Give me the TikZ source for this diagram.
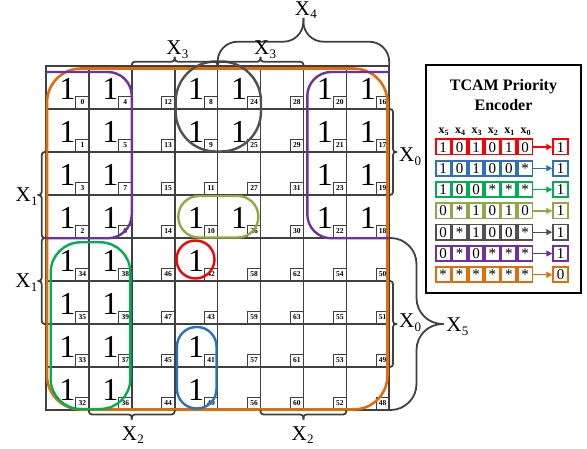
\documentclass[tikz,border=0pt]{standalone}
\usepackage{fontspec}
\setmainfont{Liberation Serif}
\usetikzlibrary{arrows.meta}
\definecolor{gridc}{HTML}{404040}
\definecolor{kred}{HTML}{FF0000}
\definecolor{kblue}{HTML}{2A72C0}
\definecolor{kgreen}{HTML}{00B050}
\definecolor{kolive}{HTML}{8DAA45}
\definecolor{kgray}{HTML}{505050}
\definecolor{kpurple}{HTML}{7030A0}
\definecolor{korange}{HTML}{E36C0A}
\newcommand{\Xs}[1]{X\rlap{\kern0.3pt\raisebox{-3.5pt}{\fontsize{13}{13}\selectfont #1}}}
\newcommand{\xs}[1]{x\rlap{\raisebox{-2.5pt}{\fontsize{8}{8}\selectfont\bfseries #1}}}
\tikzset{
  cell/.style={draw=gridc,line width=1.6pt,minimum width=42.9pt,minimum height=43pt,inner sep=0pt,outer sep=0pt},
  numbox/.style={draw=gridc,line width=0.9pt,minimum size=13pt,inner sep=0pt,outer sep=0pt,font=\fontsize{7.5}{7.5}\selectfont\bfseries},
  one/.style={inner sep=0pt,font=\fontsize{32}{32}\selectfont,yshift=-1pt},
  loopline/.style={line width=2.4pt},
  braceline/.style={draw=gridc,line width=1.8pt},
  xlab/.style={anchor=base,inner sep=0pt,font=\fontsize{21}{21}\selectfont},
  tcell/.style={line width=1.8pt,minimum width=14.6pt,minimum height=15.2pt,inner sep=0pt,text height=10.2pt,text depth=0pt,font=\fontsize{15}{15}\selectfont},
  hdr/.style={anchor=base,inner sep=0pt,font=\fontsize{12}{12}\selectfont\bfseries,xshift=-1.5pt},
  ttl/.style={anchor=base,inner sep=0pt,font=\fontsize{16}{16}\selectfont\bfseries}
}
\begin{document}
\begin{tikzpicture}[x=1pt,y=-1pt]
\useasboundingbox (0,0) rectangle (587,449);
% K-map cells
\foreach \r/\row in {0/{0,4,12,8,24,28,20,16},1/{1,5,13,9,25,29,21,17},2/{3,7,15,11,27,31,23,19},3/{2,6,14,10,26,30,22,18},4/{34,38,46,42,58,62,54,50},5/{35,39,47,43,59,63,55,51},6/{33,37,45,41,57,61,53,49},7/{32,36,44,40,56,60,52,48}}{
  \foreach \n [count=\c from 0] in \row {
    \pgfmathsetmacro\cx{46+42.9*(\c+0.5)}
    \pgfmathsetmacro\cy{66+43*(\r+0.5)}
    \node[cell] (c-\r-\c) at (\cx,\cy) {};
    \node[numbox,anchor=south east] (n-\r-\c) at (c-\r-\c.south east) {\n};
  }
}
% ones
\foreach \r/\c in {0/0,0/1,0/3,0/4,0/6,0/7,1/0,1/1,1/3,1/4,1/6,1/7,2/0,2/1,2/6,2/7,3/0,3/1,3/3,3/4,3/6,3/7,4/0,4/1,4/3,5/0,5/1,6/0,6/1,6/3,7/0,7/1,7/3}{
  \node[one] (one-\r-\c) at (c-\r-\c.center) {1};
}
% loops
\draw[loopline,korange,line width=2.6pt,rounded corners=34pt] (47,68.5) rectangle (387.5,409.5);
\draw[loopline,kpurple,rounded corners=24pt] (46,72) -- (131.8,72) -- (131.8,238.3) -- (46,238.3);
\draw[loopline,kpurple,rounded corners=24pt] (389.2,72) -- (307.3,72) -- (307.3,238.3) -- (389.2,238.3);
\draw[loopline,kgray,rounded corners=40pt] (175.7,61.5) rectangle (261,151.5);
\draw[loopline,kolive,rounded corners=20.5pt] (178.3,196) rectangle (258.3,237.5);
\draw[loopline,kred] (195.5,259.5) circle[radius=19];
\draw[loopline,kblue,rounded corners=19.5pt] (177,327) rectangle (216.5,408.5);
\draw[loopline,kgreen,rounded corners=30pt] (50.7,242.3) rectangle (130.3,409);
% braces top
\draw[braceline,rounded corners=3pt] (131.8,66) -- (131.8,61.7) -- (174.7,61.7) -- (174.7,57);
\draw[braceline,rounded corners=3pt] (217.6,66) -- (217.6,61.7) -- (174.7,61.7) -- (174.7,57);
\draw[braceline,rounded corners=3pt] (217.6,66) -- (217.6,61.7) -- (260.5,61.7) -- (260.5,57);
\draw[braceline,rounded corners=3pt] (303.4,66) -- (303.4,61.7) -- (260.5,61.7) -- (260.5,57);
\draw[braceline,rounded corners=20pt] (217.6,66) -- (217.6,41.7) -- (303.4,41.7) -- (303.4,18);
\draw[braceline,rounded corners=20pt] (389.2,66) -- (389.2,41.7) -- (303.4,41.7) -- (303.4,18);
% braces left
\draw[braceline,rounded corners=3pt] (46,152) -- (41.7,152) -- (41.7,195) -- (37.5,195);
\draw[braceline,rounded corners=3pt] (46,238) -- (41.7,238) -- (41.7,195) -- (37.5,195);
\draw[braceline,rounded corners=3pt] (46,238) -- (41.7,238) -- (41.7,281) -- (37.5,281);
\draw[braceline,rounded corners=3pt] (46,324) -- (41.7,324) -- (41.7,281) -- (37.5,281);
% braces right
\draw[braceline,rounded corners=3pt] (389.2,109) -- (393,109) -- (393,152) -- (397,152);
\draw[braceline,rounded corners=3pt] (389.2,195) -- (393,195) -- (393,152) -- (397,152);
\draw[braceline,rounded corners=3pt] (389.2,281) -- (393,281) -- (393,324) -- (397,324);
\draw[braceline,rounded corners=3pt] (389.2,367) -- (393,367) -- (393,324) -- (397,324);
\draw[braceline,rounded corners=26pt] (389.2,238) -- (416.5,238) -- (416.5,324) -- (443.5,324);
\draw[braceline,rounded corners=26pt] (389.2,410) -- (416.5,410) -- (416.5,324) -- (443.5,324);
% braces bottom
\draw[braceline,rounded corners=3pt] (88.9,410) -- (88.9,414.5) -- (131.8,414.5) -- (131.8,419.5);
\draw[braceline,rounded corners=3pt] (174.7,410) -- (174.7,414.5) -- (131.8,414.5) -- (131.8,419.5);
\draw[braceline,rounded corners=3pt] (260.5,410) -- (260.5,414.5) -- (303.4,414.5) -- (303.4,419.5);
\draw[braceline,rounded corners=3pt] (346.3,410) -- (346.3,414.5) -- (303.4,414.5) -- (303.4,419.5);
% labels
\node[xlab] (lx3a) at (174,55) {\Xs{3}};
\node[xlab] (lx3b) at (261.7,55) {\Xs{3}};
\node[xlab] (lx4) at (302.5,15.5) {\Xs{4}};
\node[xlab] (lx1a) at (23.3,201.7) {\Xs{1}};
\node[xlab] (lx1b) at (23,288) {\Xs{1}};
\node[xlab] (lx0a) at (406.7,161.7) {\Xs{0}};
\node[xlab] (lx0b) at (406.7,328) {\Xs{0}};
\node[xlab] (lx5) at (454,331.7) {\Xs{5}};
\node[xlab] (lx2a) at (129.5,440) {\Xs{2}};
\node[xlab] (lx2b) at (299.3,440) {\Xs{2}};
% TCAM encoder
\draw[line width=1.2pt] (426,65) rectangle (581,293);
\node[ttl] (title1) at (503.5,90.7) {TCAM Priority};
\node[ttl] (title2) at (503.5,110.7) {Encoder};
\foreach \lab [count=\i from 0] in {5,4,3,2,1,0}{
  \node[hdr] (h-\i) at ({443.2+16.4*\i},133.5) {\xs{\lab}};
}
\foreach \k/\col/\vals/\out in {0/kred/{1,0,1,0,1,0}/1,1/kblue/{1,0,1,0,0,*}/1,2/kgreen/{1,0,0,*,*,*}/1,3/kolive/{0,*,1,0,1,0}/1,4/kgray/{0,*,1,0,0,*}/1,5/kpurple/{0,*,0,*,*,*}/1,6/korange/{*,*,*,*,*,*}/0}{
  \pgfmathsetmacro\ty{147+21.3*\k}
  \foreach \v [count=\i from 0] in \vals {
    \node[tcell,draw=\col] (t-\k-\i) at ({443.2+16.4*\i},\ty) {\v};
  }
  \node[tcell,draw=\col] (o-\k) at (560.5,\ty) {\out};
  \draw[\col,line width=1.3pt,-{Triangle[length=6pt,width=6pt]}] (t-\k-5.east) -- (o-\k.west);
}
\end{tikzpicture}
\end{document}
